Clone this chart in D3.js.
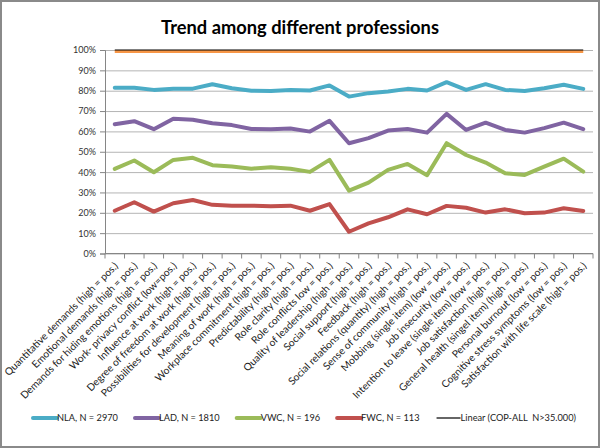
<!DOCTYPE html>
<html><head><meta charset="utf-8">
<script src="https://cdn.jsdelivr.net/npm/d3@7"></script>
<style>html,body{margin:0;padding:0;background:#fff}</style>
</head><body><svg id="c" width="600" height="448"></svg>
<script>
const title = "Trend among different professions";
const categories = [
  "Quantitative demands (high = pos.)",
  "Emotional demands (high = pos.)",
  "Demands for hiding emotions (high = pos.)",
  "Work- privacy conflict (low=pos.)",
  "Influence at work (high = pos.)",
  "Degree of freedom at work (high = pos.)",
  "Possibilities for development (high = pos.)",
  "Meaning of work (high = pos.)",
  "Workplace commitment (high = pos.)",
  "Predictability (high = pos.)",
  "Role clarity (high = pos.)",
  "Role conflicts low = pos.)",
  "Quality of leadership (high = pos.)",
  "Social support (high = pos.)",
  "Feedback (high = pos.)",
  "Social relations (quantity) (high = pos.)",
  "Sense of community (high = pos.)",
  "Mobbing (single item) (low = pos.)",
  "Job insecurity (low = pos.)",
  "Intention to leave (single item) (low = pos.)",
  "Job satisfaction (high = pos.)",
  "General health (singel item) (high = pos.)",
  "Personal burnout (low = pos.)",
  "Cognitive stress symptoms (low = pos.)",
  "Satisfaction with life scale (high = pos.)"
];
const seriesNames = ["NLA, N = 2970", "LAD, N = 1810", "VWC, N = 196", "FWC, N = 113"];
const nla = [81.5,81.5,80.4,81.0,81.0,83.2,81.2,80.0,79.9,80.4,80.1,82.6,77.1,78.8,79.6,80.9,80.1,84.2,80.4,83.2,80.4,79.9,81.2,82.9,80.9];
const lad = [63.5,65.0,61.1,66.2,65.7,64.0,63.1,61.2,61.1,61.4,59.9,65.2,54.2,56.7,60.4,61.2,59.4,68.6,60.7,64.3,60.7,59.4,61.6,64.3,61.1];
const vwc = [41.6,45.7,39.9,46.0,47.0,43.4,42.7,41.7,42.4,41.6,40.1,46.0,30.9,34.8,41.1,44.0,38.5,54.2,48.4,44.7,39.4,38.6,42.7,46.6,40.2];
const fwc = [21.0,25.2,20.6,24.7,26.3,23.9,23.5,23.5,23.2,23.5,21.0,24.3,10.7,14.8,17.8,21.7,19.3,23.4,22.5,20.1,21.7,19.8,20.1,22.2,20.9];
const copAll = [100,100,100,100,100,100,100,100,100,100,100,100,100,100,100,100,100,100,100,100,100,100,100,100,100];
const trendName = "Linear (COP-ALL  N>35.000)";
const yTicks = [0,10,20,30,40,50,60,70,80,90,100];
const yTickLabels = ["0%","10%","20%","30%","40%","50%","60%","70%","80%","90%","100%"];

const colors = ["#4BACC6", "#8064A2", "#9BBB59", "#C0504D"];
const copColor = "#F79646";

const svg = d3.select("#c");

function measure(text, family, weight, size) {
  const t = svg.append("text").attr("font-family",family).attr("font-weight",weight)
    .attr("font-size",size).style("white-space","pre").text(text);
  const w = t.node().getComputedTextLength();
  t.remove();
  return w;
}
const probe = "Quantitative demands 0123";
const narrowOK = Math.abs(measure(probe, "'Liberation Sans Narrow', monospace", "normal", 20) -
                          measure(probe, "monospace", "normal", 20)) > 1;
const FONT = narrowOK ? "'Liberation Sans Narrow', Lato, sans-serif" : "Lato, 'Open Sans', sans-serif";
const TFONT = "Lato, 'Open Sans', sans-serif";

function fitSize(text, weight, target, base, fam) {
  return base * target / measure(text, fam || FONT, weight, base);
}

svg.append("rect").attr("x",1).attr("y",1).attr("width",598).attr("height",446)
  .attr("fill","#fff").attr("stroke","#8a8a8a").attr("stroke-width",2);

const pLeft = 105, pRight = 593, pTop = 50, pBottom = 253.5;
const x = d3.scaleBand().domain(categories).range([pLeft, pRight]);
const bw = x.bandwidth();
const y = d3.scaleLinear().domain([0, 100]).range([pBottom, pTop]);

// title
const titleSize = fitSize(title, "bold", 278, 18, TFONT);
svg.append("text").attr("x",300).attr("y",34).attr("text-anchor","middle")
  .attr("font-family",TFONT).attr("font-weight","bold").attr("font-size",titleSize)
  .attr("fill","#000").text(title);

// gridlines
svg.append("g").attr("transform",`translate(${pLeft},0)`)
  .call(d3.axisLeft(y).tickValues(yTicks).tickSize(-(pRight-pLeft)).tickFormat(""))
  .call(g => g.select(".domain").remove())
  .call(g => g.selectAll("line").attr("stroke","#b4b4b4").attr("stroke-width",1));

// y axis
const tickFont = fitSize("100%", "normal", 23, 11);
const yAxis = svg.append("g").attr("transform",`translate(${pLeft},0)`)
  .call(d3.axisLeft(y).tickValues(yTicks).tickSize(5).tickPadding(4)
    .tickFormat((d,i) => yTickLabels[i]));
yAxis.select(".domain").attr("stroke","#868686");
yAxis.selectAll("line").attr("stroke","#868686");
yAxis.selectAll("text").attr("font-family",FONT).attr("font-size",tickFont).attr("fill","#333");

// x axis
const xAxis = svg.append("g").attr("transform",`translate(0,${pBottom})`);
xAxis.append("line").attr("x1",pLeft).attr("x2",pRight).attr("stroke","#868686");
const boundaries = categories.map(c => x(c)).concat([pRight]);
xAxis.selectAll("line.tk").data(boundaries).join("line").attr("class","tk")
  .attr("x1",d=>d).attr("x2",d=>d).attr("y1",0).attr("y2",5).attr("stroke","#868686");

const labSize = fitSize(categories[0], "normal", 156, 10);
svg.append("g").selectAll("text").data(categories).join("text")
  .attr("transform", d => `translate(${x(d)+bw/2+4},${pBottom+13}) rotate(-45)`)
  .attr("text-anchor","end").attr("font-family",FONT).attr("font-size",labSize)
  .attr("fill","#222").text(d => d);

// lines
const line = d3.line().x((d,i) => x(categories[i]) + bw/2).y(d => y(d));
[nla, lad, vwc, fwc].forEach((s, k) => {
  svg.append("path").datum(s).attr("d", line).attr("fill","none")
    .attr("stroke", colors[k]).attr("stroke-width",4)
    .attr("stroke-linejoin","round").attr("stroke-linecap","round");
});
svg.append("path").datum(copAll).attr("d", line).attr("fill","none")
  .attr("transform","translate(0,1.5)")
  .attr("stroke", copColor).attr("stroke-width",3);
svg.append("path").datum(copAll).attr("d", line).attr("fill","none")
  .attr("stroke", "#000").attr("stroke-width",1.2);

// legend
const legSize = fitSize(seriesNames[0], "normal", 61, 11);
const legY = 418;
let lx = 33;
const legItems = seriesNames.map((n,k) => ({name:n, color:colors[k], w:4}))
  .concat([{name:trendName, color:"#000", w:1.2}]);
legItems.forEach(it => {
  svg.append("line").attr("x1",lx).attr("x2",lx+24).attr("y1",legY).attr("y2",legY)
    .attr("stroke",it.color).attr("stroke-width",it.w).attr("stroke-linecap", it.w>2 ? "round":"butt");
  const t = svg.append("text").attr("x",lx+24).attr("y",legY).attr("dy","0.35em")
    .attr("font-family",FONT).attr("font-size",legSize).attr("fill","#222")
    .style("white-space","pre").text(it.name);
  lx += 24 + t.node().getComputedTextLength() + 17;
});
</script></body></html>
